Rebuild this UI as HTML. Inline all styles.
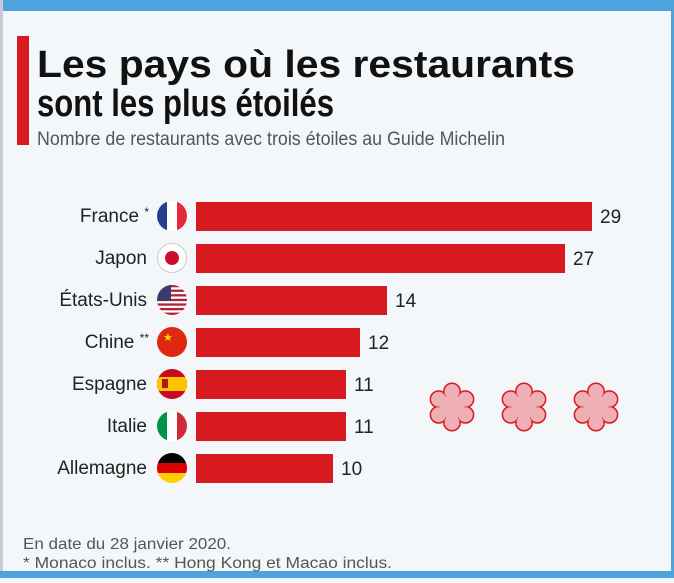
<!DOCTYPE html>
<html><head><meta charset="utf-8"><style>
html,body{margin:0;padding:0;}
body{width:674px;height:578px;overflow:hidden;background:#f4f7fa;font-family:"Liberation Sans",sans-serif;}
</style></head><body>
<svg width="674" height="578" viewBox="0 0 674 578" xmlns="http://www.w3.org/2000/svg">
<defs>
<clipPath id="c1"><circle cx="172" cy="216" r="15"/></clipPath>
<clipPath id="c3"><circle cx="172" cy="300" r="15"/></clipPath>
<clipPath id="c4"><circle cx="172" cy="342" r="15"/></clipPath>
<clipPath id="c5"><circle cx="172" cy="384" r="15"/></clipPath>
<clipPath id="c6"><circle cx="172" cy="426" r="15"/></clipPath>
<clipPath id="c7"><circle cx="172" cy="468" r="15"/></clipPath>
<g id="fl">
<circle cx="0" cy="-15.5" r="7.5"/><circle cx="13.4" cy="-7.75" r="7.5"/><circle cx="13.4" cy="7.75" r="7.5"/>
<circle cx="0" cy="15.5" r="7.5"/><circle cx="-13.4" cy="7.75" r="7.5"/><circle cx="-13.4" cy="-7.75" r="7.5"/>
<circle cx="0" cy="0" r="12"/>
</g>
</defs>
<rect x="0" y="0" width="674" height="578" fill="#f4f7fa"/>
<rect x="0" y="0" width="674" height="11" fill="#4fa3dc"/>
<rect x="0" y="0" width="3" height="578" fill="#c8ccd2"/>
<rect x="671" y="0" width="3" height="578" fill="#4fa3dc"/>
<rect x="0" y="571" width="674" height="7" fill="#4fa3dc"/>
<rect x="17" y="36" width="12" height="109" fill="#d71920"/>
<text x="37" y="77" font-size="38" font-weight="bold" fill="#111" textLength="538" lengthAdjust="spacingAndGlyphs">Les pays où les restaurants</text>
<text x="37" y="116" font-size="38" font-weight="bold" fill="#111" textLength="297" lengthAdjust="spacingAndGlyphs">sont les plus étoilés</text>
<text x="37" y="145" font-size="19" fill="#555" textLength="468" lengthAdjust="spacingAndGlyphs">Nombre de restaurants avec trois étoiles au Guide Michelin</text>

<g font-size="19" fill="#222" text-anchor="end">
<text x="149" y="222">France <tspan font-size="12" dy="-6">*</tspan></text>
<text x="147" y="264">Japon</text>
<text x="147" y="306">États-Unis</text>
<text x="149" y="348">Chine <tspan font-size="12" dy="-6">**</tspan></text>
<text x="147" y="390">Espagne</text>
<text x="147" y="432">Italie</text>
<text x="147" y="474">Allemagne</text>
</g>

<g fill="#d71920">
<rect x="196" y="202" width="396" height="29"/>
<rect x="196" y="244" width="369" height="29"/>
<rect x="196" y="286" width="191" height="29"/>
<rect x="196" y="328" width="164" height="29"/>
<rect x="196" y="370" width="150" height="29"/>
<rect x="196" y="412" width="150" height="29"/>
<rect x="196" y="454" width="137" height="29"/>
</g>
<g font-size="19" fill="#222">
<text x="600" y="223">29</text>
<text x="573" y="265">27</text>
<text x="395" y="307">14</text>
<text x="368" y="349">12</text>
<text x="354" y="391">11</text>
<text x="354" y="433">11</text>
<text x="341" y="475">10</text>
</g>

<g clip-path="url(#c1)"><rect x="157" y="201" width="10" height="30" fill="#23408e"/><rect x="167" y="201" width="10" height="30" fill="#fff"/><rect x="177" y="201" width="10" height="30" fill="#e8283c"/></g>
<circle cx="172" cy="258" r="14.5" fill="#fff" stroke="#ccc"/><circle cx="172" cy="258" r="7" fill="#c8102e"/>
<g clip-path="url(#c3)"><rect x="157" y="285" width="30" height="30" fill="#fff"/>
<g fill="#b22234"><rect x="157" y="285" width="30" height="2.3"/><rect x="157" y="289.6" width="30" height="2.3"/><rect x="157" y="294.2" width="30" height="2.3"/><rect x="157" y="298.8" width="30" height="2.3"/><rect x="157" y="303.4" width="30" height="2.3"/><rect x="157" y="308" width="30" height="2.3"/><rect x="157" y="312.6" width="30" height="2.4"/></g>
<rect x="157" y="285" width="14" height="16" fill="#3c3b6e"/></g>
<g clip-path="url(#c4)"><rect x="157" y="327" width="30" height="30" fill="#de2910"/><text x="163" y="341" font-size="11" fill="#ffde00">★</text></g>
<g clip-path="url(#c5)"><rect x="157" y="369" width="30" height="30" fill="#c60b1e"/><rect x="157" y="377" width="30" height="14" fill="#ffc400"/><rect x="162" y="379" width="6" height="9" fill="#ad1519"/></g>
<g clip-path="url(#c6)"><rect x="157" y="411" width="10" height="30" fill="#009246"/><rect x="167" y="411" width="10" height="30" fill="#fff"/><rect x="177" y="411" width="10" height="30" fill="#ce2b37"/></g>
<g clip-path="url(#c7)"><rect x="157" y="453" width="30" height="10" fill="#000"/><rect x="157" y="463" width="30" height="10" fill="#dd0000"/><rect x="157" y="473" width="30" height="10" fill="#ffce00"/></g>

<g transform="translate(452,407)"><use href="#fl" stroke="#d71920" stroke-width="3"/><use href="#fl" fill="#efb0b5"/></g>
<g transform="translate(524,407)"><use href="#fl" stroke="#d71920" stroke-width="3"/><use href="#fl" fill="#efb0b5"/></g>
<g transform="translate(596,407)"><use href="#fl" stroke="#d71920" stroke-width="3"/><use href="#fl" fill="#efb0b5"/></g>

<text x="23" y="549" font-size="15.5" fill="#555" textLength="208" lengthAdjust="spacingAndGlyphs">En date du 28 janvier 2020.</text>
<text x="23" y="568" font-size="15.5" fill="#555" textLength="369" lengthAdjust="spacingAndGlyphs">* Monaco inclus. ** Hong Kong et Macao inclus.</text>
</svg>
</body></html>
